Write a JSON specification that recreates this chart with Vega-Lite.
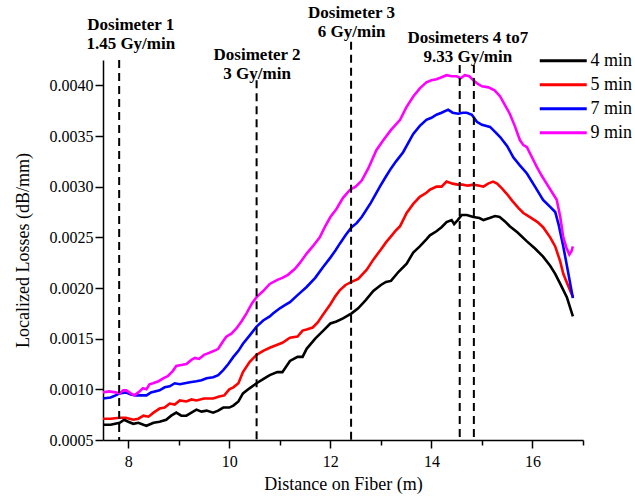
{
  "$schema": "https://vega.github.io/schema/vega-lite/v6.json",
  "width": 480,
  "height": 380,
  "autosize": {"type": "none"},
  "padding": {"left": 103, "top": 60, "right": 52, "bottom": 61},
  "background": "white",
  "config": {
    "view": {"stroke": null},
    "font": "Liberation Serif",
    "axis": {
      "grid": false,
      "domainColor": "black",
      "domainWidth": 1.5,
      "tickColor": "black",
      "tickWidth": 1.5,
      "labelFont": "Liberation Serif",
      "labelFontSize": 16,
      "labelColor": "black",
      "titleFont": "Liberation Serif",
      "titleFontSize": 18,
      "titleFontWeight": "normal",
      "titleColor": "black"
    }
  },
  "datasets": {
    "curves": [
      {"s":"4 min","d":7.5,"v":0.00065},{"s":"4 min","d":7.65,"v":0.00065},{"s":"4 min","d":7.83,"v":0.00067},{"s":"4 min","d":7.92,"v":0.0007},{"s":"4 min","d":8.0,"v":0.00068},{"s":"4 min","d":8.1,"v":0.00066},{"s":"4 min","d":8.2,"v":0.00067},{"s":"4 min","d":8.3,"v":0.00065},{"s":"4 min","d":8.36,"v":0.00064},{"s":"4 min","d":8.5,"v":0.00067},{"s":"4 min","d":8.62,"v":0.00068},{"s":"4 min","d":8.75,"v":0.0007},{"s":"4 min","d":8.85,"v":0.00074},{"s":"4 min","d":8.95,"v":0.00077},{"s":"4 min","d":9.05,"v":0.00074},{"s":"4 min","d":9.15,"v":0.00074},{"s":"4 min","d":9.25,"v":0.00077},{"s":"4 min","d":9.35,"v":0.0008},{"s":"4 min","d":9.45,"v":0.00078},{"s":"4 min","d":9.55,"v":0.00079},{"s":"4 min","d":9.68,"v":0.00077},{"s":"4 min","d":9.78,"v":0.00079},{"s":"4 min","d":9.88,"v":0.00082},{"s":"4 min","d":10.0,"v":0.00082},{"s":"4 min","d":10.08,"v":0.00084},{"s":"4 min","d":10.18,"v":0.00088},{"s":"4 min","d":10.27,"v":0.00096},{"s":"4 min","d":10.4,"v":0.00101},{"s":"4 min","d":10.54,"v":0.00106},{"s":"4 min","d":10.67,"v":0.0011},{"s":"4 min","d":10.8,"v":0.00114},{"s":"4 min","d":10.95,"v":0.00117},{"s":"4 min","d":11.05,"v":0.00117},{"s":"4 min","d":11.2,"v":0.00128},{"s":"4 min","d":11.35,"v":0.00132},{"s":"4 min","d":11.45,"v":0.00132},{"s":"4 min","d":11.53,"v":0.0014},{"s":"4 min","d":11.7,"v":0.0015},{"s":"4 min","d":11.86,"v":0.00158},{"s":"4 min","d":12.0,"v":0.00165},{"s":"4 min","d":12.12,"v":0.00167},{"s":"4 min","d":12.25,"v":0.0017},{"s":"4 min","d":12.42,"v":0.00175},{"s":"4 min","d":12.55,"v":0.0018},{"s":"4 min","d":12.7,"v":0.00188},{"s":"4 min","d":12.85,"v":0.00197},{"s":"4 min","d":13.0,"v":0.00203},{"s":"4 min","d":13.1,"v":0.00206},{"s":"4 min","d":13.2,"v":0.00207},{"s":"4 min","d":13.35,"v":0.00216},{"s":"4 min","d":13.51,"v":0.00224},{"s":"4 min","d":13.64,"v":0.00235},{"s":"4 min","d":13.77,"v":0.00241},{"s":"4 min","d":13.9,"v":0.00248},{"s":"4 min","d":13.97,"v":0.00252},{"s":"4 min","d":14.1,"v":0.00256},{"s":"4 min","d":14.2,"v":0.0026},{"s":"4 min","d":14.3,"v":0.00265},{"s":"4 min","d":14.4,"v":0.00267},{"s":"4 min","d":14.45,"v":0.00263},{"s":"4 min","d":14.52,"v":0.00267},{"s":"4 min","d":14.6,"v":0.00272},{"s":"4 min","d":14.7,"v":0.00272},{"s":"4 min","d":14.83,"v":0.0027},{"s":"4 min","d":14.95,"v":0.00269},{"s":"4 min","d":15.03,"v":0.00267},{"s":"4 min","d":15.15,"v":0.00269},{"s":"4 min","d":15.26,"v":0.00271},{"s":"4 min","d":15.35,"v":0.0027},{"s":"4 min","d":15.45,"v":0.00266},{"s":"4 min","d":15.55,"v":0.00261},{"s":"4 min","d":15.7,"v":0.00255},{"s":"4 min","d":15.89,"v":0.00246},{"s":"4 min","d":16.05,"v":0.00239},{"s":"4 min","d":16.21,"v":0.00231},{"s":"4 min","d":16.35,"v":0.00222},{"s":"4 min","d":16.45,"v":0.00214},{"s":"4 min","d":16.55,"v":0.00204},{"s":"4 min","d":16.68,"v":0.00191},{"s":"4 min","d":16.8,"v":0.00172},
      {"s":"5 min","d":7.5,"v":0.00071},{"s":"5 min","d":7.65,"v":0.00071},{"s":"5 min","d":7.83,"v":0.00072},{"s":"5 min","d":7.95,"v":0.00072},{"s":"5 min","d":8.1,"v":0.0007},{"s":"5 min","d":8.2,"v":0.00071},{"s":"5 min","d":8.3,"v":0.00074},{"s":"5 min","d":8.4,"v":0.00073},{"s":"5 min","d":8.5,"v":0.00077},{"s":"5 min","d":8.62,"v":0.00081},{"s":"5 min","d":8.72,"v":0.00082},{"s":"5 min","d":8.82,"v":0.00086},{"s":"5 min","d":8.92,"v":0.00085},{"s":"5 min","d":9.02,"v":0.00089},{"s":"5 min","d":9.15,"v":0.00088},{"s":"5 min","d":9.25,"v":0.0009},{"s":"5 min","d":9.35,"v":0.00089},{"s":"5 min","d":9.5,"v":0.00091},{"s":"5 min","d":9.68,"v":0.00091},{"s":"5 min","d":9.8,"v":0.00093},{"s":"5 min","d":9.9,"v":0.00094},{"s":"5 min","d":10.0,"v":0.001},{"s":"5 min","d":10.08,"v":0.00102},{"s":"5 min","d":10.18,"v":0.00106},{"s":"5 min","d":10.27,"v":0.00117},{"s":"5 min","d":10.4,"v":0.00127},{"s":"5 min","d":10.54,"v":0.00134},{"s":"5 min","d":10.67,"v":0.00138},{"s":"5 min","d":10.8,"v":0.00141},{"s":"5 min","d":10.95,"v":0.00144},{"s":"5 min","d":11.05,"v":0.00146},{"s":"5 min","d":11.2,"v":0.00151},{"s":"5 min","d":11.35,"v":0.00152},{"s":"5 min","d":11.45,"v":0.00158},{"s":"5 min","d":11.53,"v":0.00159},{"s":"5 min","d":11.65,"v":0.00161},{"s":"5 min","d":11.75,"v":0.00166},{"s":"5 min","d":11.86,"v":0.00174},{"s":"5 min","d":12.0,"v":0.00184},{"s":"5 min","d":12.1,"v":0.00192},{"s":"5 min","d":12.19,"v":0.00198},{"s":"5 min","d":12.3,"v":0.00203},{"s":"5 min","d":12.42,"v":0.00206},{"s":"5 min","d":12.55,"v":0.00209},{"s":"5 min","d":12.72,"v":0.00218},{"s":"5 min","d":12.85,"v":0.00228},{"s":"5 min","d":13.0,"v":0.00238},{"s":"5 min","d":13.1,"v":0.00245},{"s":"5 min","d":13.2,"v":0.00251},{"s":"5 min","d":13.3,"v":0.00257},{"s":"5 min","d":13.38,"v":0.00261},{"s":"5 min","d":13.51,"v":0.00274},{"s":"5 min","d":13.64,"v":0.00283},{"s":"5 min","d":13.77,"v":0.0029},{"s":"5 min","d":13.9,"v":0.00294},{"s":"5 min","d":13.97,"v":0.00297},{"s":"5 min","d":14.1,"v":0.003},{"s":"5 min","d":14.2,"v":0.003},{"s":"5 min","d":14.3,"v":0.00305},{"s":"5 min","d":14.42,"v":0.00303},{"s":"5 min","d":14.52,"v":0.00302},{"s":"5 min","d":14.62,"v":0.00302},{"s":"5 min","d":14.72,"v":0.00301},{"s":"5 min","d":14.83,"v":0.00302},{"s":"5 min","d":14.95,"v":0.00301},{"s":"5 min","d":15.03,"v":0.003},{"s":"5 min","d":15.12,"v":0.00303},{"s":"5 min","d":15.22,"v":0.00305},{"s":"5 min","d":15.3,"v":0.00303},{"s":"5 min","d":15.4,"v":0.00298},{"s":"5 min","d":15.49,"v":0.00293},{"s":"5 min","d":15.6,"v":0.00286},{"s":"5 min","d":15.72,"v":0.00279},{"s":"5 min","d":15.82,"v":0.00274},{"s":"5 min","d":15.95,"v":0.0027},{"s":"5 min","d":16.1,"v":0.00265},{"s":"5 min","d":16.21,"v":0.0026},{"s":"5 min","d":16.35,"v":0.0025},{"s":"5 min","d":16.45,"v":0.00241},{"s":"5 min","d":16.55,"v":0.00226},{"s":"5 min","d":16.61,"v":0.00214},{"s":"5 min","d":16.7,"v":0.00203},{"s":"5 min","d":16.8,"v":0.00191},
      {"s":"7 min","d":7.5,"v":0.00091},{"s":"7 min","d":7.65,"v":0.00092},{"s":"7 min","d":7.75,"v":0.00094},{"s":"7 min","d":7.83,"v":0.00096},{"s":"7 min","d":7.95,"v":0.00097},{"s":"7 min","d":8.05,"v":0.00095},{"s":"7 min","d":8.15,"v":0.00094},{"s":"7 min","d":8.25,"v":0.00094},{"s":"7 min","d":8.36,"v":0.00094},{"s":"7 min","d":8.45,"v":0.00097},{"s":"7 min","d":8.62,"v":0.00099},{"s":"7 min","d":8.72,"v":0.00102},{"s":"7 min","d":8.82,"v":0.00103},{"s":"7 min","d":8.92,"v":0.00106},{"s":"7 min","d":9.02,"v":0.00105},{"s":"7 min","d":9.12,"v":0.00106},{"s":"7 min","d":9.22,"v":0.00107},{"s":"7 min","d":9.35,"v":0.00108},{"s":"7 min","d":9.45,"v":0.00109},{"s":"7 min","d":9.55,"v":0.00111},{"s":"7 min","d":9.68,"v":0.00112},{"s":"7 min","d":9.78,"v":0.00114},{"s":"7 min","d":9.88,"v":0.00119},{"s":"7 min","d":9.98,"v":0.00125},{"s":"7 min","d":10.08,"v":0.00132},{"s":"7 min","d":10.18,"v":0.00138},{"s":"7 min","d":10.27,"v":0.00145},{"s":"7 min","d":10.4,"v":0.00153},{"s":"7 min","d":10.54,"v":0.00162},{"s":"7 min","d":10.67,"v":0.00168},{"s":"7 min","d":10.8,"v":0.00172},{"s":"7 min","d":10.87,"v":0.00175},{"s":"7 min","d":11.0,"v":0.0018},{"s":"7 min","d":11.1,"v":0.00183},{"s":"7 min","d":11.2,"v":0.00186},{"s":"7 min","d":11.35,"v":0.00193},{"s":"7 min","d":11.53,"v":0.00201},{"s":"7 min","d":11.7,"v":0.0021},{"s":"7 min","d":11.86,"v":0.00221},{"s":"7 min","d":12.0,"v":0.0023},{"s":"7 min","d":12.1,"v":0.00237},{"s":"7 min","d":12.19,"v":0.00244},{"s":"7 min","d":12.3,"v":0.00252},{"s":"7 min","d":12.42,"v":0.0026},{"s":"7 min","d":12.52,"v":0.00264},{"s":"7 min","d":12.62,"v":0.0027},{"s":"7 min","d":12.8,"v":0.00284},{"s":"7 min","d":12.98,"v":0.003},{"s":"7 min","d":13.1,"v":0.0031},{"s":"7 min","d":13.2,"v":0.00318},{"s":"7 min","d":13.3,"v":0.00325},{"s":"7 min","d":13.44,"v":0.00334},{"s":"7 min","d":13.55,"v":0.00344},{"s":"7 min","d":13.64,"v":0.00352},{"s":"7 min","d":13.77,"v":0.0036},{"s":"7 min","d":13.9,"v":0.00366},{"s":"7 min","d":14.0,"v":0.00368},{"s":"7 min","d":14.1,"v":0.00371},{"s":"7 min","d":14.2,"v":0.00373},{"s":"7 min","d":14.33,"v":0.00376},{"s":"7 min","d":14.42,"v":0.00373},{"s":"7 min","d":14.53,"v":0.00372},{"s":"7 min","d":14.62,"v":0.00373},{"s":"7 min","d":14.7,"v":0.00373},{"s":"7 min","d":14.8,"v":0.00371},{"s":"7 min","d":14.9,"v":0.00364},{"s":"7 min","d":15.0,"v":0.00361},{"s":"7 min","d":15.16,"v":0.00359},{"s":"7 min","d":15.26,"v":0.00354},{"s":"7 min","d":15.36,"v":0.00349},{"s":"7 min","d":15.5,"v":0.0034},{"s":"7 min","d":15.62,"v":0.00329},{"s":"7 min","d":15.75,"v":0.00321},{"s":"7 min","d":15.89,"v":0.00313},{"s":"7 min","d":16.05,"v":0.003},{"s":"7 min","d":16.21,"v":0.00287},{"s":"7 min","d":16.35,"v":0.0028},{"s":"7 min","d":16.45,"v":0.00275},{"s":"7 min","d":16.52,"v":0.00262},{"s":"7 min","d":16.61,"v":0.00241},{"s":"7 min","d":16.7,"v":0.00217},{"s":"7 min","d":16.8,"v":0.0019},
      {"s":"9 min","d":7.5,"v":0.00097},{"s":"9 min","d":7.62,"v":0.00098},{"s":"9 min","d":7.75,"v":0.00097},{"s":"9 min","d":7.83,"v":0.00096},{"s":"9 min","d":7.9,"v":0.00099},{"s":"9 min","d":7.96,"v":0.00099},{"s":"9 min","d":8.05,"v":0.00096},{"s":"9 min","d":8.12,"v":0.00094},{"s":"9 min","d":8.2,"v":0.00097},{"s":"9 min","d":8.29,"v":0.00101},{"s":"9 min","d":8.36,"v":0.001},{"s":"9 min","d":8.42,"v":0.00105},{"s":"9 min","d":8.49,"v":0.00106},{"s":"9 min","d":8.6,"v":0.00108},{"s":"9 min","d":8.7,"v":0.00111},{"s":"9 min","d":8.78,"v":0.00113},{"s":"9 min","d":8.88,"v":0.00118},{"s":"9 min","d":8.95,"v":0.00123},{"s":"9 min","d":9.05,"v":0.00124},{"s":"9 min","d":9.15,"v":0.00125},{"s":"9 min","d":9.25,"v":0.00129},{"s":"9 min","d":9.32,"v":0.00131},{"s":"9 min","d":9.4,"v":0.0013},{"s":"9 min","d":9.5,"v":0.00134},{"s":"9 min","d":9.6,"v":0.00136},{"s":"9 min","d":9.7,"v":0.00138},{"s":"9 min","d":9.78,"v":0.0014},{"s":"9 min","d":9.87,"v":0.00147},{"s":"9 min","d":9.94,"v":0.00152},{"s":"9 min","d":10.04,"v":0.00155},{"s":"9 min","d":10.14,"v":0.0016},{"s":"9 min","d":10.24,"v":0.00167},{"s":"9 min","d":10.34,"v":0.00175},{"s":"9 min","d":10.45,"v":0.00185},{"s":"9 min","d":10.54,"v":0.00191},{"s":"9 min","d":10.67,"v":0.00197},{"s":"9 min","d":10.8,"v":0.00204},{"s":"9 min","d":10.95,"v":0.00208},{"s":"9 min","d":11.05,"v":0.0021},{"s":"9 min","d":11.16,"v":0.00213},{"s":"9 min","d":11.3,"v":0.00219},{"s":"9 min","d":11.4,"v":0.00225},{"s":"9 min","d":11.53,"v":0.00234},{"s":"9 min","d":11.65,"v":0.00241},{"s":"9 min","d":11.79,"v":0.0025},{"s":"9 min","d":11.9,"v":0.00261},{"s":"9 min","d":12.0,"v":0.0027},{"s":"9 min","d":12.12,"v":0.00278},{"s":"9 min","d":12.25,"v":0.00289},{"s":"9 min","d":12.39,"v":0.00297},{"s":"9 min","d":12.5,"v":0.003},{"s":"9 min","d":12.62,"v":0.00306},{"s":"9 min","d":12.75,"v":0.00318},{"s":"9 min","d":12.91,"v":0.00336},{"s":"9 min","d":13.05,"v":0.00346},{"s":"9 min","d":13.2,"v":0.00356},{"s":"9 min","d":13.38,"v":0.00366},{"s":"9 min","d":13.5,"v":0.00378},{"s":"9 min","d":13.64,"v":0.00389},{"s":"9 min","d":13.77,"v":0.00397},{"s":"9 min","d":13.9,"v":0.00403},{"s":"9 min","d":14.0,"v":0.00405},{"s":"9 min","d":14.1,"v":0.00406},{"s":"9 min","d":14.2,"v":0.00408},{"s":"9 min","d":14.3,"v":0.0041},{"s":"9 min","d":14.4,"v":0.00409},{"s":"9 min","d":14.5,"v":0.00409},{"s":"9 min","d":14.58,"v":0.00407},{"s":"9 min","d":14.66,"v":0.0041},{"s":"9 min","d":14.75,"v":0.00409},{"s":"9 min","d":14.83,"v":0.00405},{"s":"9 min","d":14.9,"v":0.00402},{"s":"9 min","d":15.0,"v":0.00399},{"s":"9 min","d":15.13,"v":0.00398},{"s":"9 min","d":15.25,"v":0.00395},{"s":"9 min","d":15.36,"v":0.00389},{"s":"9 min","d":15.45,"v":0.00381},{"s":"9 min","d":15.55,"v":0.00372},{"s":"9 min","d":15.65,"v":0.0036},{"s":"9 min","d":15.75,"v":0.00346},{"s":"9 min","d":15.82,"v":0.00341},{"s":"9 min","d":15.89,"v":0.00339},{"s":"9 min","d":16.0,"v":0.00328},{"s":"9 min","d":16.08,"v":0.0032},{"s":"9 min","d":16.18,"v":0.00311},{"s":"9 min","d":16.28,"v":0.00303},{"s":"9 min","d":16.38,"v":0.00295},{"s":"9 min","d":16.48,"v":0.00287},{"s":"9 min","d":16.55,"v":0.0027},{"s":"9 min","d":16.61,"v":0.0025},{"s":"9 min","d":16.67,"v":0.0024},{"s":"9 min","d":16.73,"v":0.00233},{"s":"9 min","d":16.77,"v":0.00236},{"s":"9 min","d":16.8,"v":0.00241}
    ],
    "dosimeters": [
      {"d": 7.82, "top": 0.00425, "bottom": 0.0005},
      {"d": 10.54, "top": 0.00405, "bottom": 0.0005},
      {"d": 12.41, "top": 0.00443, "bottom": 0.0005},
      {"d": 14.56, "top": 0.0042, "bottom": 0.0005},
      {"d": 14.84, "top": 0.0042, "bottom": 0.0005}
    ],
    "labels": [
      {"d": 8.05, "v": 0.00455, "t": "Dosimeter 1\n1.45 Gy/min"},
      {"d": 10.55, "v": 0.00425, "t": "Dosimeter 2\n3 Gy/min"},
      {"d": 12.42, "v": 0.004665, "t": "Dosimeter 3\n6 Gy/min"},
      {"d": 14.72, "v": 0.004418, "t": "Dosimeters 4 to7\n9.33 Gy/min"}
    ]
  },
  "layer": [
    {
      "data": {"name": "curves"},
      "mark": {"type": "line", "strokeWidth": 2.6, "clip": false},
      "encoding": {
        "x": {
          "field": "d", "type": "quantitative",
          "scale": {"domain": [7.5, 17], "nice": false, "zero": false},
          "axis": {
            "title": "Distance on Fiber (m)",
            "values": [8, 9, 10, 11, 12, 13, 14, 15, 16, 17],
            "labelExpr": "datum.value % 2 === 0 ? datum.label : ''",
            "tickSize": {"condition": {"test": "datum.value % 2 === 0", "value": 8}, "value": 5},
            "labelPadding": 5,
            "titlePadding": 6
          }
        },
        "y": {
          "field": "v", "type": "quantitative",
          "scale": {"domain": [0.0005, 0.00425], "nice": false, "zero": false},
          "axis": {
            "title": "Localized Losses (dB/mm)",
            "values": [0.0005, 0.00075, 0.001, 0.00125, 0.0015, 0.00175, 0.002, 0.00225, 0.0025, 0.00275, 0.003, 0.00325, 0.0035, 0.00375, 0.004, 0.00425],
            "format": ".4f",
            "labelExpr": "round(datum.value * 4000) % 2 === 0 ? datum.label : ''",
            "tickSize": {"condition": {"test": "round(datum.value * 4000) % 2 === 0", "value": 8}, "value": 5},
            "labelPadding": 2,
            "titlePadding": 17
          }
        },
        "color": {
          "field": "s", "type": "nominal",
          "scale": {"domain": ["4 min", "5 min", "7 min", "9 min"], "range": ["#000000", "#ff0000", "#0000ff", "#ff00ff"]},
          "legend": {
            "title": null,
            "orient": "none",
            "legendX": 446.75,
            "legendY": -12.75,
            "symbolType": "M-2,0H2",
            "symbolSize": 552,
            "symbolStrokeWidth": 3,
            "labelFont": "Liberation Serif",
            "labelFontSize": 18,
            "labelColor": "black",
            "labelOffset": 13.75,
            "rowPadding": 1,
            "padding": 0
          }
        }
      }
    },
    {
      "data": {"name": "dosimeters"},
      "mark": {"type": "rule", "strokeDash": [8, 5], "strokeWidth": 2, "color": "black", "clip": false},
      "encoding": {
        "x": {"field": "d", "type": "quantitative"},
        "y": {"field": "top", "type": "quantitative"},
        "y2": {"field": "bottom"}
      }
    },
    {
      "data": {"name": "labels"},
      "mark": {"type": "text", "font": "Liberation Serif", "fontSize": 17, "fontWeight": "bold", "lineBreak": "\n", "lineHeight": 19, "align": "center", "baseline": "alphabetic", "color": "black", "clip": false},
      "encoding": {
        "x": {"field": "d", "type": "quantitative"},
        "y": {"field": "v", "type": "quantitative"},
        "text": {"field": "t", "type": "nominal"}
      }
    }
  ]
}
